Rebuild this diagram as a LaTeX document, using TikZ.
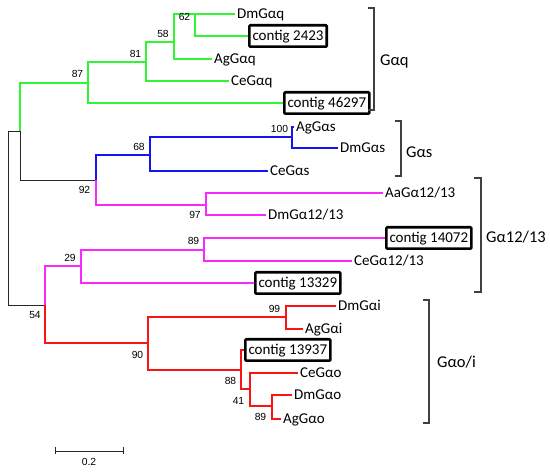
\documentclass[tikz,border=0pt]{standalone}
\usepackage{fontspec}
\setmainfont{Carlito}
\newfontfamily\numfont{Liberation Sans}
\definecolor{qgreen}{RGB}{50,245,50}
\definecolor{sblue}{RGB}{20,20,245}
\definecolor{tmagenta}{RGB}{250,40,250}
\definecolor{ored}{RGB}{250,20,20}
\begin{document}
\begin{tikzpicture}[x=1pt,y=-1pt]
	\tikzstyle{every node}+=[inner sep=0pt]
	\tikzstyle{leaf}=[anchor=west, inner xsep=2pt, text height=12pt, text depth=2.4pt, font=\fontsize{15}{18}\selectfont]
	\tikzstyle{contig}=[leaf, draw=black, line width=2.6pt, inner xsep=3.2pt, inner ysep=3.5pt, rounded corners=1pt]
	\tikzstyle{boot}=[font=\numfont\fontsize{10.3}{12}\selectfont]
	\tikzstyle{br}=[line width=1.5pt]
	\tikzstyle{stem}=[line width=0.9pt, black!85]
	\tikzstyle{clade}=[line width=1.1pt, black!75]
	\tikzstyle{cladename}=[anchor=west, font=\fontsize{16.5}{19}\selectfont]
	\useasboundingbox (0,0) rectangle (550,473);
	% inner nodes
	\coordinate (root) at (8,218);
	\coordinate (nA) at (20,131);
	\coordinate (n87) at (88,83);
	\coordinate (n81) at (146,62);
	\coordinate (n58) at (174,42);
	\coordinate (n62) at (195,14);
	\coordinate (n92) at (96,180);
	\coordinate (n68) at (150,155);
	\coordinate (n100) at (292,137);
	\coordinate (n97) at (206,205);
	\coordinate (n54) at (45,305);
	\coordinate (n29) at (81,266);
	\coordinate (n89m) at (204,250);
	\coordinate (n90) at (148,343);
	\coordinate (n99) at (286,317);
	\coordinate (n88) at (241,370);
	\coordinate (n41) at (250,389);
	\coordinate (n89r) at (272,406);
	% leaves
	\node [leaf] (DmGaq) at (235,14) {DmGαq};
	\node [contig] (c2423) at (248,36) {contig 2423};
	\node [leaf] (AgGaq) at (212,59) {AgGαq};
	\node [leaf] (CeGaq) at (229,81) {CeGαq};
	\node [contig] (c46297) at (283,103) {contig 46297};
	\node [leaf] (AgGas) at (294,127) {AgGαs};
	\node [leaf] (DmGas) at (338,148) {DmGαs};
	\node [leaf] (CeGas) at (268,171) {CeGαs};
	\node [leaf] (AaGt) at (383,193) {AaGα12/13};
	\node [leaf] (DmGt) at (266,215) {DmGα12/13};
	\node [contig] (c14072) at (385,238) {contig 14072};
	\node [leaf] (CeGt) at (352,261) {CeGα12/13};
	\node [contig] (c13329) at (254,283) {contig 13329};
	\node [leaf] (DmGai) at (336,306) {DmGαi};
	\node [leaf] (AgGai) at (303,329) {AgGαi};
	\node [contig] (c13937) at (244,350) {contig 13937};
	\node [leaf] (CeGao) at (298,373) {CeGαo};
	\node [leaf] (DmGao) at (292,395) {DmGαo};
	\node [leaf] (AgGao) at (281,419) {AgGαo};
	% branches
	\draw [stem] (root) |- (nA);
	\draw [stem] (root) |- (n54);
	\draw [stem] (nA) |- (n92);
	\draw [br, qgreen] (nA) |- (n87);
	\draw [br, qgreen] (n87) |- (n81);
	\draw [br, qgreen] (n87) |- (c46297.west);
	\draw [br, qgreen] (n81) |- (n58);
	\draw [br, qgreen] (n81) |- (CeGaq.west);
	\draw [br, qgreen] (n58) |- (n62);
	\draw [br, qgreen] (n58) |- (AgGaq.west);
	\draw [br, qgreen] (n62) |- (DmGaq.west);
	\draw [br, qgreen] (n62) |- (c2423.west);
	\draw [br, sblue] (n92) |- (n68);
	\draw [br, sblue] (n68) |- (n100);
	\draw [br, sblue] (n68) |- (CeGas.west);
	\draw [br, sblue] (n100) |- (AgGas.west);
	\draw [br, sblue] (n100) |- (DmGas.west);
	\draw [br, tmagenta] (n92) |- (n97);
	\draw [br, tmagenta] (n97) |- (AaGt.west);
	\draw [br, tmagenta] (n97) |- (DmGt.west);
	\draw [br, tmagenta] (n54) |- (n29);
	\draw [br, tmagenta] (n29) |- (n89m);
	\draw [br, tmagenta] (n29) |- (c13329.west);
	\draw [br, tmagenta] (n89m) |- (c14072.west);
	\draw [br, tmagenta] (n89m) |- (CeGt.west);
	\draw [br, ored] (n54) |- (n90);
	\draw [br, ored] (n90) |- (n99);
	\draw [br, ored] (n90) |- (n88);
	\draw [br, ored] (n99) |- (DmGai.west);
	\draw [br, ored] (n99) |- (AgGai.west);
	\draw [br, ored] (n88) |- (c13937.west);
	\draw [br, ored] (n88) |- (n41);
	\draw [br, ored] (n41) |- (CeGao.west);
	\draw [br, ored] (n41) |- (n89r);
	\draw [br, ored] (n89r) |- (DmGao.west);
	\draw [br, ored] (n89r) |- (AgGao.west);
	% bootstrap values
	\node [boot] (b62) at (184.5,16.5) {62};
	\node [boot] (b58) at (163,34) {58};
	\node [boot] (b81) at (135.5,53.5) {81};
	\node [boot] (b87) at (77.5,74) {87};
	\node [boot] (b68) at (139,146.5) {68};
	\node [boot] (b92) at (84.5,190) {92};
	\node [boot] (b97) at (195,215) {97};
	\node [boot] (b100) at (279.5,129) {100};
	\node [boot] (b89m) at (193.5,241) {89};
	\node [boot] (b29) at (70,258) {29};
	\node [boot] (b54) at (35,315.5) {54};
	\node [boot] (b90) at (137.5,354.5) {90};
	\node [boot] (b99) at (274.5,308.5) {99};
	\node [boot] (b88) at (230.5,380.5) {88};
	\node [boot] (b41) at (238.5,400.5) {41};
	\node [boot] (b89r) at (260.5,417) {89};
	% clades
	\draw [clade] (368,8) -- (374,8) -- (374,110) -- (368,110);
	\node [cladename] (Gaq) at (380,61) {Gαq};
	\draw [clade] (395,121) -- (401,121) -- (401,176) -- (395,176);
	\node [cladename] (Gas) at (406,152) {Gαs};
	\draw [clade] (474,178) -- (481,178) -- (481,292) -- (474,292);
	\node [cladename] (Gat) at (486,237) {Gα12/13};
	\draw [clade] (423,300) -- (429,300) -- (429,423) -- (423,423);
	\node [cladename] (Gaoi) at (437,362) {Gαo/i};
	% scale
	\draw [stem] (55,447.5) -- (55,454.5) (55,451) -- (123,451) (123,447.5) -- (123,454.5);
	\node [boot] (scale) at (89,462) {0.2};
\end{tikzpicture}
\end{document}
